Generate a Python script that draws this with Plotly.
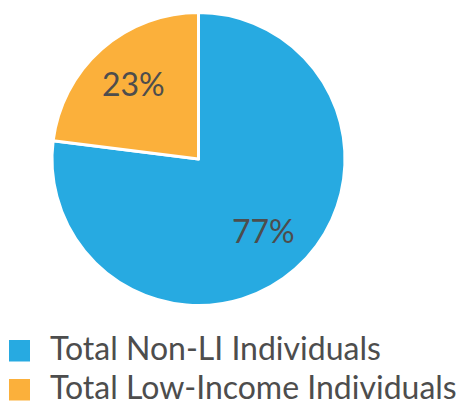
import math
import plotly.graph_objects as go

labels = ["Total Non-LI Individuals", "Total Low-Income Individuals"]
values = [77, 23]
colors = ["#27AAE1", "#FBB03B"]

W, H = 460, 402
text_color = "#4D4D4D"

# Pie geometry in pixels (centre and radius), converted to a paper domain
cx, cy, r = 198.5, 159.0, 146.5
dom_x = [(cx - r) / W, (cx + r) / W]
dom_y = [(H - (cy + r)) / H, (H - (cy - r)) / H]

fig = go.Figure(
    go.Pie(
        labels=labels,
        values=values,
        sort=False,
        direction="clockwise",
        rotation=0,
        marker=dict(colors=colors, line=dict(color="white", width=3)),
        textinfo="none",
        hoverinfo="label+percent",
        domain=dict(x=dom_x, y=dom_y),
        showlegend=False,
    )
)

annotations = []

# Percentage labels placed along each slice's mid-angle
total = sum(values)
start = 0.0
label_radius = 0.67 * r
for v in values:
    mid = start + v / total * 360 / 2
    start += v / total * 360
    ang = math.radians(mid)
    px = cx + label_radius * math.sin(ang)
    py = cy - label_radius * math.cos(ang)
    annotations.append(dict(text=f"{round(v / total * 100)}%", xref="paper", yref="paper",
                            x=px / W, y=1 - py / H, xanchor="center", yanchor="middle",
                            yshift=2, showarrow=False,
                            font=dict(family="Lato", size=32, color=text_color)))

# Legend drawn as paper-anchored squares and labels
legend_top = [340, 379]
shapes = []
for lab, col, y in zip(labels, colors, legend_top):
    shapes.append(dict(type="rect", xref="paper", yref="paper",
                       x0=9 / W, x1=30 / W, y0=1 - (y + 21.5) / H, y1=1 - y / H,
                       fillcolor=col, line=dict(width=0)))
    annotations.append(dict(text=lab, xref="paper", yref="paper",
                            x=48 / W, y=1 - (y + 7) / H,
                            xanchor="left", yanchor="middle", showarrow=False,
                            font=dict(family="Lato", size=32, color=text_color)))

fig.update_layout(
    width=W, height=H,
    margin=dict(l=0, r=0, t=0, b=0),
    paper_bgcolor="white",
    plot_bgcolor="white",
    shapes=shapes,
    annotations=annotations,
)

fig.write_html("out.html")
